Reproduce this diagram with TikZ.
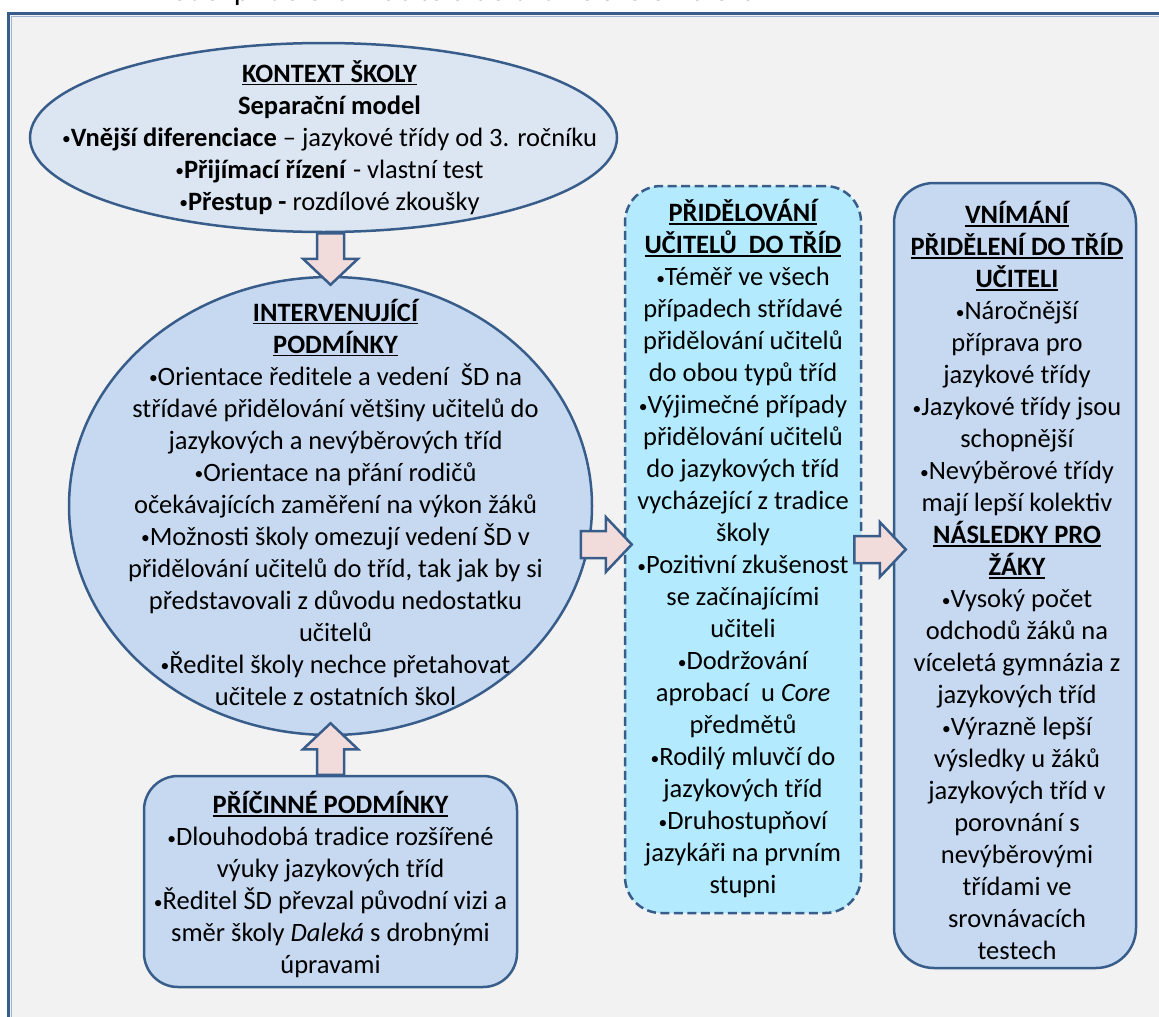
\documentclass[tikz,border=0pt]{standalone}
\usepackage{fontspec}
\setmainfont{Carlito}
\usetikzlibrary{calc,shapes.geometric}
\definecolor{bord}{HTML}{385D8A}
\definecolor{bordlight}{HTML}{9DB3CF}
\definecolor{bgc}{HTML}{F2F2F2}
\definecolor{fillA}{HTML}{DCE6F2}
\definecolor{fillB}{HTML}{C6D9F1}
\definecolor{fillC}{HTML}{B3EAFD}
\definecolor{pinkf}{HTML}{F2DCDB}
\newsavebox\ulbox
\newcommand\myul[1]{\sbox\ulbox{\bfseries #1}\leavevmode\rlap{\rule[-3.2pt]{\wd\ulbox}{1.7pt}}\usebox\ulbox}
\newcommand\bu{\raisebox{1.3pt}{\fontsize{17.5}{17.5}\selectfont •}}
\tikzset{
  shapeline/.style={draw=bord, line width=2.5pt},
  ellshape/.style={shapeline, ellipse, inner sep=0pt},
  rbox/.style={shapeline, rectangle, inner sep=0pt},
  txt/.style={align=center, inner sep=0pt, font=\fontsize{26.5}{32}\selectfont, text=black},
  fat/.style={draw=bord, line width=2.5pt, fill=pinkf, line join=miter,
    to path={
      ($(\tikztotarget)!26pt!(\tikztostart)$) coordinate (hb)
      ($(\tikztostart)!13.5pt!90:(\tikztotarget)$)
      -- ($(hb)!13.5pt!-90:(\tikztostart)$)
      -- ($(hb)!27.5pt!-90:(\tikztostart)$)
      -- (\tikztotarget)
      -- ($(hb)!27.5pt!90:(\tikztostart)$)
      -- ($(hb)!13.5pt!90:(\tikztostart)$)
      -- ($(\tikztostart)!13.5pt!-90:(\tikztotarget)$)
      -- cycle}}
}
\begin{document}
\begin{tikzpicture}[x=1pt,y=-1pt]
\useasboundingbox (0,0) rectangle (1159,1017);
\fill[white] (0,0) rectangle (1159,1017);
% outer frame (cut by the page)
\fill[bgc] (8.5,13.5) rectangle (1185,1045);
\draw[bord, line width=3.5pt] (8.5,1045) -- (8.5,13.5) -- (1185,13.5);
\draw[bordlight, line width=1.2pt] (11.6,1045) -- (11.6,16.6) -- (1185,16.6);
% cut caption above the frame
\node[anchor=base west, inner sep=0pt, font=\fontsize{31}{37}\selectfont] (title) at (145,1) {Model přidělování učitelů do tříd ve škole Daleká};
% shapes
\node[ellshape, fill=fillA, minimum width=587pt, minimum height=189pt] (e1) at (323.5,137.5) {};
\node[ellshape, fill=fillB, minimum width=523pt, minimum height=458pt] (c2) at (330.5,506) {};
\node[rbox, fill=fillB, rounded corners=34pt, minimum width=373pt, minimum height=211pt] (b3) at (330.5,881.5) {};
\node[rbox, fill=fillC, dash pattern=on 9pt off 4.5pt, rounded corners=36pt, minimum width=236pt, minimum height=727pt] (b4) at (743,549.5) {};
\node[rbox, fill=fillB, rounded corners=40pt, minimum width=242pt, minimum height=785pt] (b5) at (1015,575.5) {};
% arrow end points
\coordinate (a1s) at (b3.north |- e1.south);
\coordinate (a1t) at ($(b3.north |- c2.north)+(0,9)$);
\coordinate (a2s) at (b3.north);
\coordinate (a2t) at ($(b3.north |- c2.south)+(0,-13)$);
\coordinate (a3s) at ($(b4.west)+(-43,-5)$);
\coordinate (a3t) at ($(b4.west)+(8,-5)$);
\coordinate (a4s) at ($(b4.east)+(-8,0)$);
\coordinate (a4t) at ($(b4.east -| b5.west)+(13,0)$);
% block arrows
\draw[fat] (a1s) to (a1t);
\draw[fat] (a2s) to (a2t);
\draw[fat] (a3s) to (a3t);
\draw[fat] (a4s) to (a4t);
% texts
\node[txt] (e1t) at ($(e1.center)+(6,0)$) {\myul{KONTEXT ŠKOLY}\\
\textbf{Separační model}\\
\bu\textbf{Vnější diferenciace} – jazykové třídy od 3. ročníku\\
\bu\textbf{Přijímací řízení} - vlastní test\\
\bu\textbf{Přestup -} rozdílové zkoušky};
\node[txt] (c2t) at ($(c2.center)+(5,-4)$) {\myul{INTERVENUJÍCÍ}\\
\myul{PODMÍNKY}\\
\bu Orientace ředitele a vedení \ ŠD na\\
střídavé přidělování většiny učitelů do\\
jazykových a nevýběrových tříd\\
\bu Orientace na přání rodičů\\
očekávajících zaměření na výkon žáků\\
\bu Možnosti školy omezují vedení ŠD v\\
přidělování učitelů do tříd, tak jak by si\\
představovali z důvodu nedostatku\\
učitelů\\
\bu Ředitel školy nechce přetahovat\\
učitele z ostatních škol};
\node[txt] (b3t) at ($(b3.center)+(0,3)$) {\myul{PŘÍČINNÉ PODMÍNKY}\\
\bu Dlouhodobá tradice rozšířené\\
výuky jazykových tříd\\
\bu Ředitel ŠD převzal původní vizi a\\
směr školy \textit{Daleká} s drobnými\\
úpravami};
\node[txt] (b4t) at ($(b4.center)+(0,-1)$) {\myul{PŘIDĚLOVÁNÍ}\\
\myul{UČITELŮ\ \ DO TŘÍD}\\
\bu Téměř ve všech\\
případech střídavé\\
přidělování učitelů\\
do obou typů tříd\\
\bu Výjimečné případy\\
přidělování učitelů\\
do jazykových tříd\\
vycházející z tradice\\
školy\\
\bu Pozitivní zkušenost\\
se začínajícími\\
učiteli\\
\bu Dodržování\\
aprobací \ u \textit{Core}\\
předmětů\\
\bu Rodilý mluvčí do\\
jazykových tříd\\
\bu Druhostupňoví\\
jazykáři na prvním\\
stupni};
\node[txt] (b5t) at ($(b5.center)+(2,5)$) {\myul{VNÍMÁNÍ}\\
\myul{PŘIDĚLENÍ DO TŘÍD}\\
\myul{UČITELI}\\
\bu Náročnější\\
příprava pro\\
jazykové třídy\\
\bu Jazykové třídy jsou\\
schopnější\\
\bu Nevýběrové třídy\\
mají lepší kolektiv\\
\myul{NÁSLEDKY PRO}\\
\myul{ŽÁKY}\\
\bu Vysoký počet\\
odchodů žáků na\\
víceletá gymnázia z\\
jazykových tříd\\
\bu Výrazně lepší\\
výsledky u žáků\\
jazykových tříd v\\
porovnání s\\
nevýběrovými\\
třídami ve\\
srovnávacích\\
testech};
\end{tikzpicture}
\end{document}
